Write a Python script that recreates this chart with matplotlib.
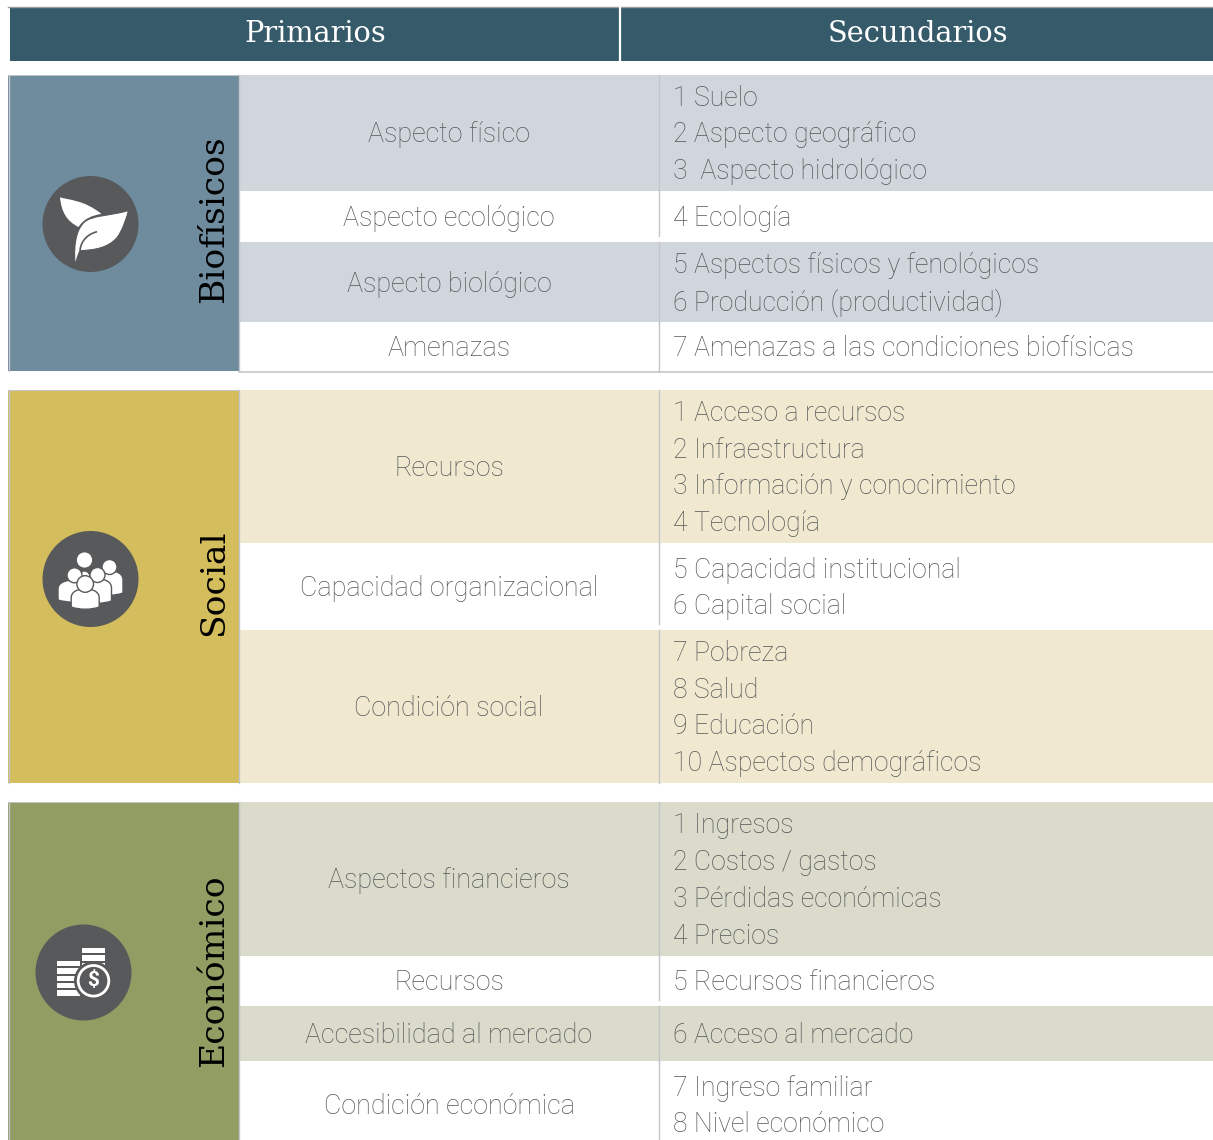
import matplotlib
matplotlib.use('Agg')
import matplotlib.pyplot as plt
from matplotlib.patches import Rectangle, Circle, PathPatch
from matplotlib.path import Path

# table contents
headers = ['Primarios', 'Secundarios']
groups = ['Biofísicos', 'Social', 'Económico']
primary = [
    ['Aspecto físico', 'Aspecto ecológico', 'Aspecto biológico', 'Amenazas'],
    ['Recursos', 'Capacidad organizacional', 'Condición social'],
    ['Aspectos financieros', 'Recursos', 'Accesibilidad al mercado', 'Condición económica'],
]
secondary = [
    [['1 Suelo', '2 Aspecto geográfico', '3  Aspecto hidrológico'],
     ['4 Ecología'],
     ['5 Aspectos físicos y fenológicos', '6 Producción (productividad)'],
     ['7 Amenazas a las condiciones biofísicas']],
    [['1 Acceso a recursos', '2 Infraestructura', '3 Información y conocimiento', '4 Tecnología'],
     ['5 Capacidad institucional', '6 Capital social'],
     ['7 Pobreza', '8 Salud', '9 Educación', '10 Aspectos demográficos']],
    [['1 Ingresos', '2 Costos / gastos', '3 Pérdidas económicas', '4 Precios'],
     ['5 Recursos financieros'],
     ['6 Acceso al mercado'],
     ['7 Ingreso familiar', '8 Nivel económico']],
]

# layout, in image pixels (the last row runs past the bottom of the image)
W, H = 1213, 1140
row_edges = [[75, 191, 242, 322, 371], [390, 543, 630, 783], [802, 956, 1006, 1061, 1148]]
group_colors = ['#6f8b9e', '#d3bd5c', '#919e63']
shade_colors = ['#d1d6dd', '#f0e9cf', '#dadbca']
icon_centers = [(90.5, 224), (90.5, 579), (83.5, 972.5)]
group_label_y = [219, 583, 970.5]
# rows whose divider stops short of the row bottom
short_divider = {(0, 1), (1, 1), (2, 1)}

TEXT = '#555658'
ICON = '#58595b'
LINE = '#c3c6ca'
BODY_FONT = ['Roboto', 'DejaVu Sans']
SLAB_FONT = ['DejaVu Serif']
LINE_STEP = 36.7
TEXT_DY = 2

fig = plt.figure(figsize=(W / 100, H / 100), dpi=100)
ax = fig.add_axes([0, 0, 1, 1])
ax.set_xlim(0, W)
ax.set_ylim(H, 0)
ax.axis('off')


def rect(x0, y0, x1, y1, color, z=1):
    ax.add_patch(Rectangle((x0, y0), x1 - x0, y1 - y0, fc=color, ec='none', zorder=z))


def bezier(cx, cy, start, curves, **kw):
    # curves is a list of (control1, control2, end) relative to the icon centre
    verts = [(cx + start[0], cy + start[1])]
    codes = [Path.MOVETO]
    for c1, c2, e in curves:
        verts += [(cx + c1[0], cy + c1[1]), (cx + c2[0], cy + c2[1]), (cx + e[0], cy + e[1])]
        codes += [Path.CURVE4] * 3
    return PathPatch(Path(verts, codes), **kw)


def leaf_icon(cx, cy):
    back = [((-22, -24), (-6, -24), (11, -10)),
            ((2, -9), (-7, -5), (-12, 3)),
            ((-24, -3), (-29, -12), (-30.5, -26.7))]
    ax.add_patch(bezier(cx, cy, (-30.5, -26.7), back, fc='white', ec='none', zorder=4))
    front = [((20, -8), (2, -9), (-6, -2)),
             ((-14, 5), (-17, 20), (-15.5, 39)),
             ((-14, 39), (-13.5, 32), (-10.5, 26.7)),
             ((4, 26), (18, 24), (27, 13)),
             ((32, 6), (35, -3), (38, -13.5))]
    ax.add_patch(bezier(cx, cy, (38, -13.5), front, fc='white', ec=ICON, lw=0.8, zorder=5))
    cut = [((-10, 20), (-6, 11), (6.5, 7.7))]
    ax.add_patch(bezier(cx, cy, (-10.5, 26.7), cut, fc='none', ec=ICON, lw=1.2, zorder=6))


def person(cx, cy, x, head_y, head_r, top, half_w, bottom, z):
    # rounded shoulders and a head, dark outline keeps the figures apart
    left, right = x - half_w, x + half_w
    curves = [((left, top - 1), (x - half_w * 0.6, top - 4), (x, top - 4)),
              ((x + half_w * 0.6, top - 4), (right, top - 1), (right, top + 5)),
              ((right, top + 5), (right, bottom - 3), (right, bottom - 3)),
              ((x + half_w * 0.4, bottom), (x - half_w * 0.4, bottom), (left, bottom - 3)),
              ((left, bottom - 3), (left, top + 5), (left, top + 5))]
    ax.add_patch(bezier(cx, cy, (left, top + 5), curves, fc='white', ec=ICON, lw=1.0, zorder=z))
    ax.add_patch(Circle((cx + x, cy + head_y), head_r, fc='white', ec=ICON, lw=1.0, zorder=z))


def people_icon(cx, cy):
    person(cx, cy, -6, -19, 8.3, -4, 6, 4, 4)
    person(cx, cy, 19, -12, 7.5, -4, 13.5, 17, 5)
    person(cx, cy, -16, -3.7, 7.5, 5, 16.5, 24, 6)
    person(cx, cy, 7, -4, 7.5, 4, 14, 25, 7)
    person(cx, cy, -5.3, 5, 8.3, 14, 14, 31, 8)


def money_icon(cx, cy):
    for i in range(5):
        rect(cx - 26.5, cy - 11.7 + i * 7.4, cx - 3.5, cy - 6.4 + i * 7.4, 'white', z=4)
    for i in range(3):
        rect(cx - 2, cy - 24.7 + i * 7.4, cx + 21.5, cy - 19.4 + i * 7.4, 'white', z=4)
    ax.add_patch(Circle((cx + 10, cy + 8.3), 19.5, fc=ICON, ec='none', zorder=5))
    ax.add_patch(Circle((cx + 10, cy + 8.3), 15.3, fc=ICON, ec='white', lw=2, zorder=6))
    ax.text(cx + 10, cy + 8.3, '$', color='white', fontsize=15, fontweight='bold', family=BODY_FONT,
            ha='center', va='center', zorder=7, parse_math=False)


# header band
rect(10, 7, W, 61, '#355a6a')
ax.plot([8, W], [6.5, 6.5], color='#9a9ea2', lw=1, zorder=2)
ax.plot([620, 620], [7, 62], color='white', lw=1.6, zorder=3)
for label, x in zip(headers, (315, 918)):
    ax.text(x, 34.5, label, color='white', fontsize=20.8, family=SLAB_FONT, ha='center', va='center', zorder=3)

icons = [leaf_icon, people_icon, money_icon]
for g, edges in enumerate(row_edges):
    top, bottom = edges[0], edges[-1]
    rect(8, top, 239, bottom, group_colors[g], z=2)
    ax.plot([8.5, 8.5], [top, bottom], color=LINE, lw=1, zorder=3)
    ax.plot([239, 239], [top, bottom], color=LINE, lw=1, zorder=3)
    ax.plot([8, 239], [top, top], color=LINE, lw=0.7, zorder=3)
    ax.text(214.5, group_label_y[g], groups[g], rotation=90, color='black', fontsize=24.8,
            family=SLAB_FONT, ha='center', va='center', zorder=3)

    cx, cy = icon_centers[g]
    ax.add_patch(Circle((cx, cy), 48, fc=ICON, ec='none', zorder=3))
    icons[g](cx, cy)

    for r in range(len(edges) - 1):
        y0, y1 = edges[r], edges[r + 1]
        if r % 2 == 0:
            rect(239, y0, W, y1, shade_colors[g])
        mid = (y0 + y1) / 2 + TEXT_DY
        end = y1 - 6 if (g, r) in short_divider else y1
        ax.plot([659, 659], [y0, end], color=LINE, lw=1, zorder=3)
        ax.text(449, mid, primary[g][r], color=TEXT, fontsize=19.4, fontweight='light', family=BODY_FONT,
                ha='center', va='center', zorder=3)
        lines = secondary[g][r]
        for k, line in enumerate(lines):
            y = mid + (k - (len(lines) - 1) / 2) * LINE_STEP
            ax.text(673, y, line, color=TEXT, fontsize=19.2, fontweight='light', family=BODY_FONT,
                    ha='left', va='center', zorder=3)

ax.plot([239, W], [371.5, 371.5], color=LINE, lw=1.2, zorder=3)

fig.savefig('out.png', dpi=100, facecolor='white')
